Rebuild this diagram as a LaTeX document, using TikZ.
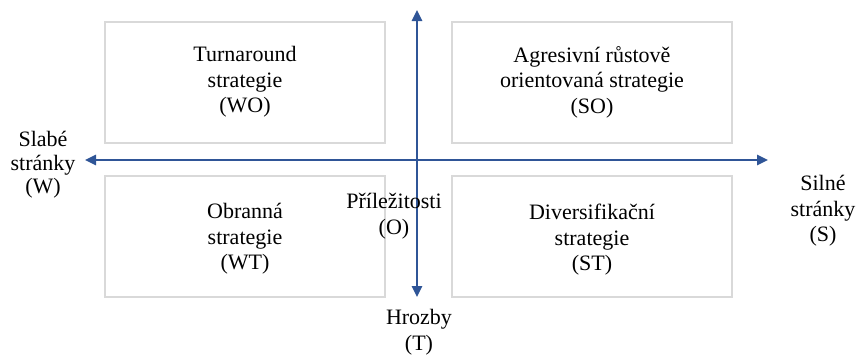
\documentclass[tikz,border=0pt]{standalone}
\usepackage{fontspec}
\setmainfont{Liberation Serif}
\usetikzlibrary{arrows.meta}
\definecolor{axisblue}{HTML}{2F5597}
\definecolor{boxgray}{HTML}{D9D9D9}
\begin{document}
\begin{tikzpicture}[x=1pt,y=-1pt,
  quad/.style={draw=boxgray,line width=2pt,minimum width=280pt,minimum height=121pt,inner sep=0pt},
  lbl/.style={align=center,font=\rmfamily\fontsize{22}{25.5}\selectfont,inner sep=0pt},
  axis/.style={draw=axisblue,line width=2.5pt,{Triangle[length=11pt,width=10pt]}-{Triangle[length=11pt,width=10pt]}}]
\useasboundingbox (0,0) rectangle (856,354);
% quadrant boxes
\node[quad] (wo) at (245,82.5) {};
\node[quad] (so) at (592,82.5) {};
\node[quad] (wt) at (245,236.5) {};
\node[quad] (st) at (592,236.5) {};
% texts in boxes
\node[lbl] (twot) at (245,82) {Turnaround\\strategie\\(WO)};
\node[lbl] (tso) at (592,82) {Agresivní růstově\\orientovaná strategie\\(SO)};
\node[lbl] (twt) at (245,239) {Obranná\\strategie\\(WT)};
\node[lbl] (tst) at (592,240) {Diversifikační\\strategie\\(ST)};
% axes
\coordinate (top) at (417,10);
\coordinate (bot) at (417,297);
\coordinate (left) at (85,160);
\coordinate (right) at (768,160);
\draw[axis] (left) -- (right);
\draw[axis] (bot) -- (top);
% axis labels
\node[lbl,font=\rmfamily\fontsize{22}{23.5}\selectfont] (w) at (43,165) {Slabé\\stránky\\(W)};
\node[lbl] (s) at (823,211) {Silné\\stránky\\(S)};
\node[lbl] (o) at (394,216) {Příležitosti\\(O)};
\node[lbl] (t) at (419,332) {Hrozby\\(T)};
\end{tikzpicture}
\end{document}
